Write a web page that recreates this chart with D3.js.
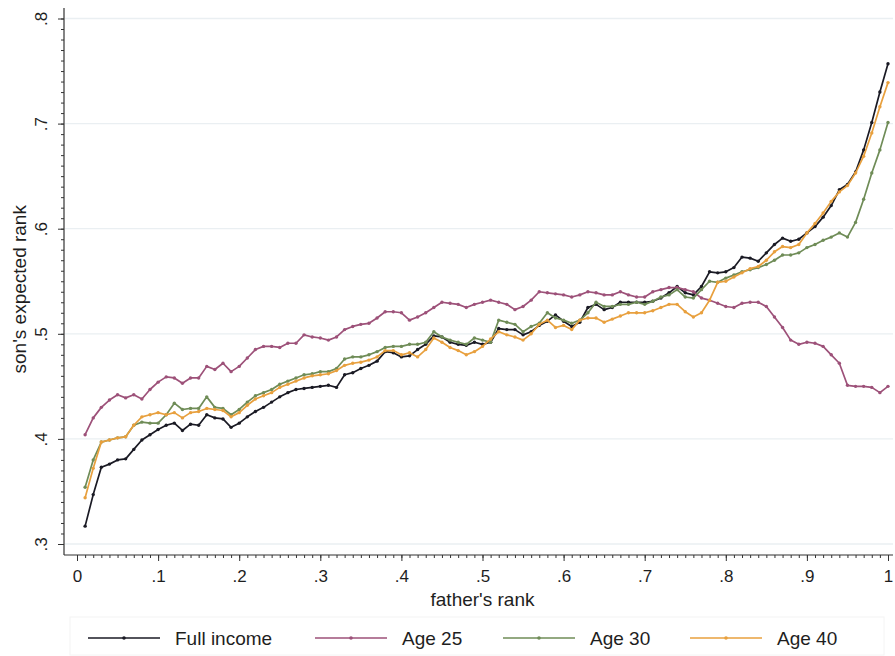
<!DOCTYPE html>
<html><head><meta charset="utf-8">
<script src="https://cdn.jsdelivr.net/npm/d3@7"></script>
<style>
body{margin:0;background:#fff}
text{font-family:"Liberation Sans",Arial,Helvetica,sans-serif;fill:#1e1e1e}
</style>
</head><body>
<svg id="c" width="895" height="656"></svg>
<script>
// ---------------- DATA ----------------
const fatherRank = [0.01,0.02,0.03,0.04,0.05,0.06,0.07,0.08,0.09,0.10,
 0.11,0.12,0.13,0.14,0.15,0.16,0.17,0.18,0.19,0.20,
 0.21,0.22,0.23,0.24,0.25,0.26,0.27,0.28,0.29,0.30,
 0.31,0.32,0.33,0.34,0.35,0.36,0.37,0.38,0.39,0.40,
 0.41,0.42,0.43,0.44,0.45,0.46,0.47,0.48,0.49,0.50,
 0.51,0.52,0.53,0.54,0.55,0.56,0.57,0.58,0.59,0.60,
 0.61,0.62,0.63,0.64,0.65,0.66,0.67,0.68,0.69,0.70,
 0.71,0.72,0.73,0.74,0.75,0.76,0.77,0.78,0.79,0.80,
 0.81,0.82,0.83,0.84,0.85,0.86,0.87,0.88,0.89,0.90,
 0.91,0.92,0.93,0.94,0.95,0.96,0.97,0.98,0.99,1.00];

const fullIncome = [.317,.347,.373,.376,.380,.381,.390,.399,.404,.409,
 .413,.415,.408,.414,.413,.423,.420,.419,.411,.415,
 .421,.426,.430,.435,.440,.444,.447,.448,.449,.450,
 .451,.449,.461,.463,.467,.470,.474,.483,.482,.478,
 .479,.485,.490,.498,.497,.492,.490,.489,.492,.490,
 .492,.505,.504,.504,.499,.502,.508,.512,.518,.512,
 .507,.511,.525,.528,.523,.525,.530,.530,.530,.530,
 .531,.534,.539,.545,.539,.537,.545,.559,.558,.559,
 .563,.573,.572,.569,.577,.585,.591,.588,.590,.596,
 .602,.611,.622,.637,.642,.654,.675,.701,.730,.757];

const age25 = [.404,.420,.430,.437,.442,.439,.442,.438,.447,.454,
 .459,.458,.453,.458,.458,.469,.466,.472,.464,.469,
 .477,.485,.488,.488,.487,.491,.491,.499,.497,.496,
 .494,.497,.504,.507,.509,.510,.515,.521,.521,.520,
 .513,.516,.520,.525,.530,.529,.528,.525,.528,.530,
 .532,.530,.528,.523,.526,.532,.540,.539,.538,.537,
 .535,.537,.540,.539,.537,.537,.540,.537,.535,.535,
 .540,.542,.544,.544,.542,.540,.534,.532,.529,.526,
 .525,.529,.530,.530,.526,.516,.506,.494,.490,.492,
 .491,.488,.480,.472,.451,.450,.450,.449,.444,.450];

const age30 = [.354,.380,.397,.399,.401,.402,.413,.416,.415,.415,
 .423,.434,.428,.429,.429,.440,.430,.429,.423,.428,
 .435,.441,.444,.447,.452,.455,.458,.461,.462,.464,
 .464,.467,.476,.478,.478,.480,.483,.487,.488,.488,
 .490,.490,.492,.502,.497,.494,.492,.490,.496,.494,
 .492,.513,.511,.509,.502,.507,.510,.520,.515,.513,
 .510,.513,.520,.530,.526,.526,.528,.528,.530,.528,
 .531,.535,.537,.542,.535,.534,.542,.550,.549,.553,
 .556,.559,.561,.563,.566,.570,.575,.575,.577,.582,
 .585,.589,.592,.596,.592,.606,.628,.653,.675,.701];

const age40 = [.344,.372,.397,.399,.401,.402,.413,.421,.423,.425,
 .423,.425,.420,.425,.426,.429,.428,.427,.421,.425,
 .432,.438,.441,.444,.449,.452,.455,.458,.460,.461,
 .462,.465,.470,.472,.473,.475,.478,.484,.484,.480,
 .482,.478,.485,.496,.492,.487,.484,.480,.483,.488,
 .495,.502,.499,.497,.494,.500,.509,.513,.506,.508,
 .504,.513,.515,.515,.511,.514,.517,.520,.520,.520,
 .522,.525,.528,.528,.521,.516,.520,.532,.549,.550,
 .554,.558,.562,.564,.570,.578,.583,.582,.585,.596,
 .605,.615,.626,.635,.641,.653,.669,.691,.716,.739];

const seriesNames = ["Full income","Age 25","Age 30","Age 40"];
const seriesValues = [fullIncome, age25, age30, age40];
const seriesColors = ["#1a1a24","#9d5179","#6f8c57","#e8a03e"];

const xTickValues = [0,0.1,0.2,0.3,0.4,0.5,0.6,0.7,0.8,0.9,1];
const yTickValues = [0.3,0.4,0.5,0.6,0.7,0.8];
const xTitle = "father's rank";
const yTitle = "son's expected rank";

// ---------------- CHART ----------------
const svg = d3.select("#c");
const x = d3.scaleLinear().domain([0,1]).range([77,888]);
const y = d3.scaleLinear().domain([0.3,0.8]).range([544,18.5]);
const fmt = d => d === 0 ? "0" : d === 1 ? "1" : d3.format(".1f")(d).replace(/^0/,"");

const axisX0 = 64, axisY0 = 555;

// grid lines
svg.append("g").selectAll("line").data(yTickValues).join("line")
  .attr("x1", axisX0 + 1).attr("x2", 893)
  .attr("y1", d => y(d)).attr("y2", d => y(d))
  .attr("stroke", "#eaeff2").attr("stroke-width", 1.3);

// x axis: minor + major ticks
const minorX = d3.range(0, 101).map(i => i / 100);
const gxMinor = svg.append("g").attr("transform", `translate(0,${axisY0})`)
  .call(d3.axisBottom(x).tickValues(minorX).tickSize(3).tickFormat(""));
const gx = svg.append("g").attr("transform", `translate(0,${axisY0})`)
  .call(d3.axisBottom(x).tickValues(xTickValues).tickSize(6).tickPadding(9).tickFormat(fmt));
gx.selectAll("text").attr("font-size", 17).style("font-family", '"Liberation Sans",Arial,sans-serif').attr("fill", "#1e1e1e");

// y axis: minor + major ticks
const minorY = d3.range(30, 81).map(i => i / 100);
const gyMinor = svg.append("g").attr("transform", `translate(${axisX0},0)`)
  .call(d3.axisLeft(y).tickValues(minorY).tickSize(3).tickFormat(""));
const gy = svg.append("g").attr("transform", `translate(${axisX0},0)`)
  .call(d3.axisLeft(y).tickValues(yTickValues).tickSize(6).tickFormat(fmt));
gy.selectAll("text")
  .attr("transform", "rotate(-90)")
  .attr("x", 0).attr("y", -17).attr("dy", 0)
  .attr("text-anchor", "middle")
  .attr("font-size", 17).style("font-family", '"Liberation Sans",Arial,sans-serif').attr("fill", "#1e1e1e");

[gxMinor, gx, gyMinor, gy].forEach(g => {
  g.select(".domain").remove();
  g.selectAll(".tick line").attr("stroke", "#333").attr("stroke-width", 1);
});

// axis lines
svg.append("line").attr("x1", axisX0).attr("x2", axisX0).attr("y1", 8).attr("y2", axisY0)
  .attr("stroke", "#333").attr("stroke-width", 1.2);
svg.append("line").attr("x1", axisX0).attr("x2", 893).attr("y1", axisY0).attr("y2", axisY0)
  .attr("stroke", "#333").attr("stroke-width", 1.2);

// axis titles
svg.append("text").attr("x", (x(0) + x(1)) / 2).attr("y", 606)
  .attr("text-anchor", "middle").attr("font-size", 19).text(xTitle);
svg.append("text").attr("transform", `translate(26,${(y(0.3) + y(0.8)) / 2 + 8}) rotate(-90)`)
  .attr("text-anchor", "middle").attr("font-size", 19).text(yTitle);

// series
const line = d3.line().x((d, i) => x(fatherRank[i])).y(d => y(d));
seriesValues.forEach((vals, s) => {
  const g = svg.append("g");
  g.append("path").attr("d", line(vals)).attr("fill", "none")
    .attr("stroke", seriesColors[s]).attr("stroke-width", 1.7).attr("stroke-linejoin", "round");
  g.selectAll("circle").data(vals).join("circle")
    .attr("cx", (d, i) => x(fatherRank[i])).attr("cy", d => y(d))
    .attr("r", 1.7).attr("fill", seriesColors[s]);
});

// legend
const legendX = [88, 315, 503, 690];
const legendY = 638;
svg.append("rect").attr("x", 70).attr("y", 617).attr("width", 814).attr("height", 38)
  .attr("fill", "none").attr("stroke", "#f4f4f4");
seriesNames.forEach((name, s) => {
  const g = svg.append("g").attr("transform", `translate(${legendX[s]},${legendY})`);
  g.append("line").attr("x1", 0).attr("x2", 72).attr("y1", 0).attr("y2", 0)
    .attr("stroke", seriesColors[s]).attr("stroke-width", 1.5);
  g.append("circle").attr("cx", 36).attr("cy", 0).attr("r", 1.8).attr("fill", seriesColors[s]);
  g.append("text").attr("x", 87).attr("y", 0).attr("dy", "0.35em")
    .attr("font-size", 19).text(name);
});
</script>
</body></html>
